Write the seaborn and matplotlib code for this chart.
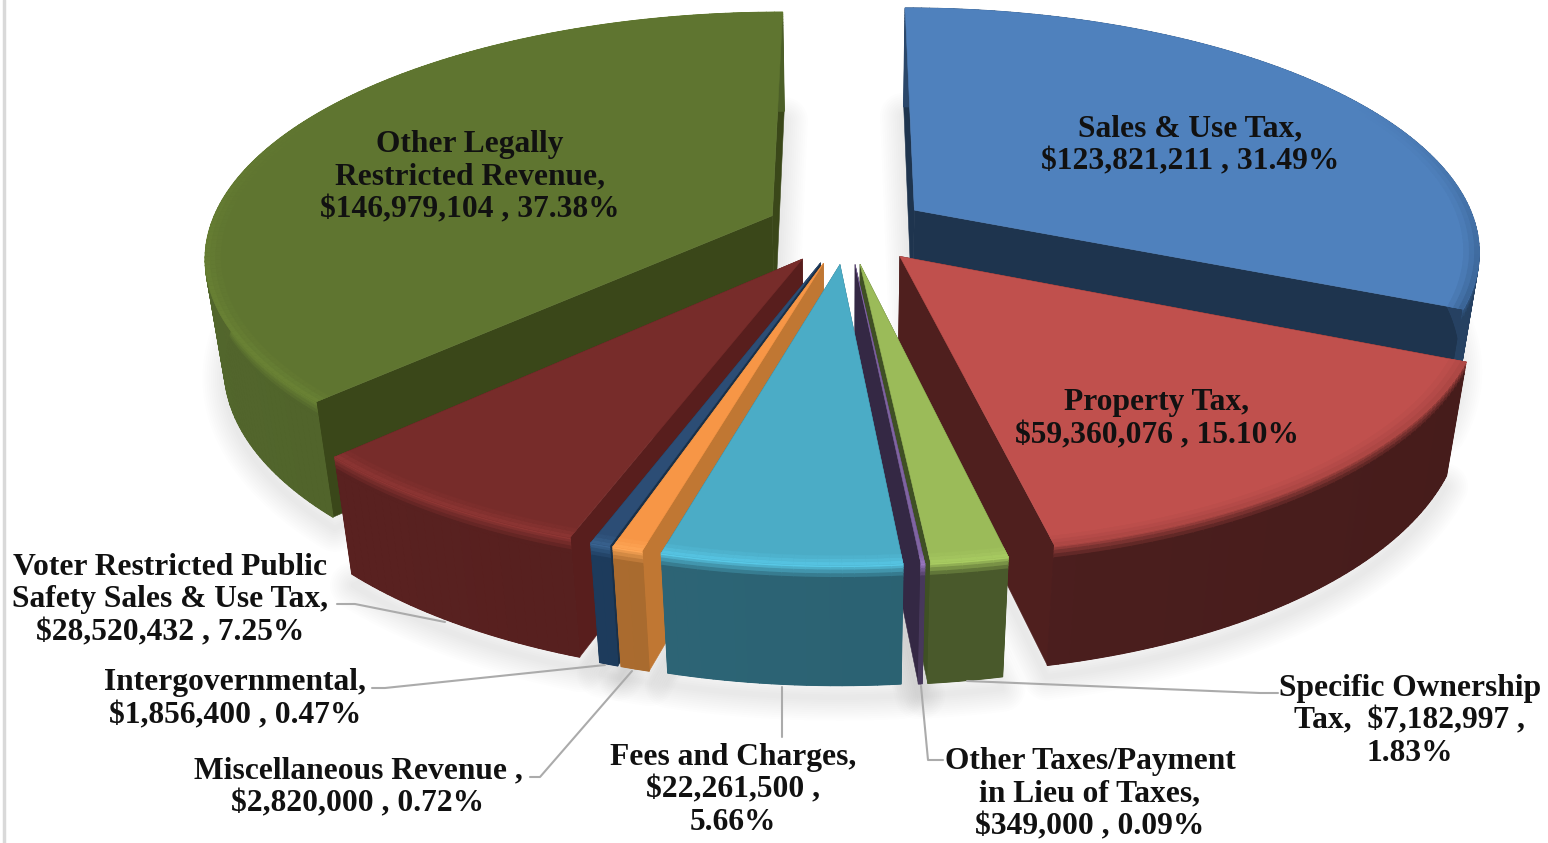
import numpy as np
import matplotlib
matplotlib.use("Agg")
import matplotlib.pyplot as plt
import matplotlib.colors as mc
from matplotlib.collections import PolyCollection
import seaborn as sns

# ---- data ----
names = ["Sales & Use Tax", "Property Tax", "Specific Ownership Tax",
         "Other Taxes/Payment in Lieu of Taxes", "Fees and Charges",
         "Miscellaneous Revenue", "Intergovernmental",
         "Voter Restricted Public Safety Sales & Use Tax",
         "Other Legally Restricted Revenue"]
amounts = [123821211, 59360076, 7182997, 349000, 22261500,
           2820000, 1856400, 28520432, 146979104]
percents = [31.49, 15.10, 1.83, 0.09, 5.66, 0.72, 0.47, 7.25, 37.38]
label_templates = [
    "Sales & Use Tax,\n{a} , {p}",
    "Property Tax,\n{a} , {p}",
    "Specific Ownership\nTax,  {a} ,\n{p}",
    "Other Taxes/Payment\nin Lieu of Taxes,\n{a} , {p}",
    "Fees and Charges,\n{a} ,\n{p}",
    "Miscellaneous Revenue ,\n{a} , {p}",
    "Intergovernmental,\n{a} , {p}",
    "Voter Restricted Public\nSafety Sales & Use Tax,\n{a} , {p}",
    "Other Legally\nRestricted Revenue,\n{a} , {p}",
]

# ---- styles ----
top_colors = sns.color_palette(["#4F81BD", "#C0504D", "#9BBB59", "#8064A2", "#4BACC6",
                                "#F79646", "#2C4D75", "#772C2A", "#5F7530"])
outer_colors = ["#2B4A6F", "#4F1F1E", "#4D5E2C", "#4A3A60", "#2C6779",
                "#B06E2E", "#1B3B5E", "#581E1D", "#4F6328"]
inner_colors = ["#1E344E", "#4F1F1E", "#3F5024", "#342844", "#2A6070",
                "#C07733", "#1A3048", "#581E1D", "#3A4719"]
rim_colors = ["#335A88", "#A84542", "#A9CC62", "#9A78C0", "#58C8E6",
              "#FFA858", "#3A6491", "#8F3634", "#6B8435"]
label_pos = [(1190, 142), (1157, 416), (1410, 718), (1090, 791), (733, 787),
             (358, 784), (235, 696), (170, 597), (470, 174)]
leaders = [None, None,
           [(967, 681), (1260, 693), (1278, 693)],
           [(921, 686), (928, 760), (943, 760)],
           [(782, 687), (782, 737)],
           [(632, 671), (540, 777), (530, 777)],
           [(605, 665), (385, 688), (372, 688)],
           [(445, 622), (355, 604), (337, 604)],
           None]

# ---- projection ----
CX, CY, A, B, H, K, KZ, EXPL = 847, 229, 563, 240, 112, 0.16, 0.03, 0.145


def project(X, Yb, Z=0.0):
    w = 1 + K * np.asarray(Yb) + KZ * Z
    return np.column_stack([CX + A * np.asarray(X) / w,
                            CY + (-B * np.asarray(Yb) + H * Z) / w])


sns.set_theme(style="white")
plt.rcParams["font.family"] = ["Liberation Serif", "DejaVu Serif"]
fig = plt.figure(figsize=(15.48, 8.43), dpi=100, facecolor="white")
ax = fig.add_axes([0, 0, 1, 1])
ax.set_xlim(0, 1548)
ax.set_ylim(843, 0)
ax.axis("off")
ax.plot([4, 4], [0, 843], color="#D9D9D9", lw=2.5, zorder=0)

fracs = np.array(amounts, float) / np.sum(amounts)
edges = np.concatenate([[0], np.cumsum(fracs)]) * 2 * np.pi
slices = []
for i in range(len(amounts)):
    t0, t1 = edges[i], edges[i + 1]
    mid = (t0 + t1) / 2
    ox, oy = EXPL * np.sin(mid), EXPL * np.cos(mid)
    th = np.linspace(t0, t1, max(3, int((t1 - t0) * 60)))
    slices.append(dict(i=i, t0=t0, t1=t1, mid=mid, ox=ox, oy=oy, th=th))


def lerp(c1, c2, f):
    return tuple((1 - f) * np.array(mc.to_rgb(c1)) + f * np.array(mc.to_rgb(c2)))


def poly(ax_, pts, color, z):
    ax_.fill(pts[:, 0], pts[:, 1], color=color, lw=0.4, zorder=z)


# soft ground shadow
for s in slices:
    X = np.r_[s["ox"], s["ox"] + np.sin(s["th"])]
    Y = np.r_[s["oy"], s["oy"] + np.cos(s["th"])]
    base = project(X, Y, 1.1)
    base = np.vstack([base, base[:1]])
    for lw in np.arange(34, 1, -3):
        ax.plot(base[:, 0], base[:, 1], color="black", alpha=0.009, lw=lw,
                solid_capstyle="round", solid_joinstyle="round", zorder=1)

z = 2
order = sorted(slices, key=lambda s: -np.cos(s["mid"]))
for s in order:
    i = s["i"]
    ox, oy, th = s["ox"], s["oy"], s["th"]
    # radial walls
    for t in (s["t0"], s["t1"]):
        p = np.vstack([project([ox, ox + np.sin(t)], [oy, oy + np.cos(t)], 0),
                       project([ox + np.sin(t), ox], [oy + np.cos(t), oy], 1)])
        poly(ax, p, inner_colors[i], z)
    z += 1
    # outer wall: solid underlay, then bevel band and gentle gradient
    xs, ys = ox + np.sin(th), oy + np.cos(th)
    under = np.vstack([project(xs, ys, 0), project(xs[::-1], ys[::-1], 1)])
    poly(ax, under, outer_colors[i], z)
    z += 1
    zs = [0, .02, .04, .07, .1, .13, 1]
    quads, cols = [], []
    for a, b_ in zip(th[:-1], th[1:]):
        xa, ya = ox + np.sin(a), oy + np.cos(a)
        xb, yb = ox + np.sin(b_), oy + np.cos(b_)
        mid_a = (a + b_) / 2
        f = 0.5 + 0.5 * np.sin(mid_a)
        wall = lerp(outer_colors[i], "#000000", 0.12 * f)
        wall = lerp(wall, "#FFFFFF", 0.02 * (1 - f))
        for k in range(len(zs) - 1):
            q = np.vstack([project([xa, xb], [ya, yb], zs[k]),
                           project([xb, xa], [yb, ya], zs[k + 1])])
            quads.append(q)
            cols.append(lerp(rim_colors[i], wall, min(1, k / 4)))
    ax.add_collection(PolyCollection(quads, facecolors=cols, edgecolors=cols,
                                     linewidths=0.9, zorder=z))
    z += 1
    # top surface
    X = np.r_[ox, ox + np.sin(th)]
    Y = np.r_[oy, oy + np.cos(th)]
    poly(ax, project(X, Y, 0), top_colors[i], z)
    z += 1
    # rim highlight on the top surface, only on edges turned to the viewer
    quads, cols = [], []
    for r0, r1, f in [(.991, 1.0, .8), (.982, .991, .5), (.973, .982, .22)]:
        for a, b_ in zip(th[:-1], th[1:]):
            fade = np.clip(0.5 - np.cos((a + b_) / 2), 0, 1)
            q = np.vstack([project(ox + r0 * np.sin([a, b_]), oy + r0 * np.cos([a, b_]), 0),
                           project(ox + r1 * np.sin([b_, a]), oy + r1 * np.cos([b_, a]), 0)])
            c = lerp(top_colors[i], rim_colors[i], f * fade)
            quads.append(q)
            cols.append(c)
    ax.add_collection(PolyCollection(quads, facecolors=cols, edgecolors=cols,
                                     linewidths=0.3, zorder=z))
    z += 1

# leader lines and labels
for leader in leaders:
    if leader:
        pts = np.array(leader)
        ax.plot(pts[:, 0], pts[:, 1], color="#ABABAB", lw=1.5, zorder=z)
z += 1
for i, (x, y) in enumerate(label_pos):
    txt = label_templates[i].format(a=f"${amounts[i]:,}", p=f"{percents[i]:.2f}%")
    ax.text(x, y + 3, txt, ha="center", va="center", ma="center", fontsize=22.7,
            fontweight="bold", color="#111111", linespacing=1.18, zorder=z)

fig.savefig("out.png", dpi=100, facecolor="white")
